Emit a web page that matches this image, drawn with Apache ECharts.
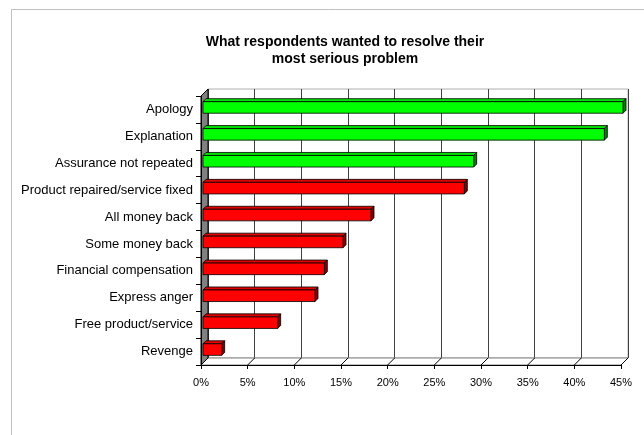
<!DOCTYPE html>
<html>
<head>
<meta charset="utf-8">
<script src="https://cdn.jsdelivr.net/npm/echarts@6/dist/echarts.min.js"></script>
<style>
  html, body { margin: 0; padding: 0; background: #fff; }
  #chart { width: 644px; height: 435px; }
</style>
</head>
<body>
<div id="chart"></div>
<script>
// What respondents wanted, share of respondents (%)
const categories = [
  'Apology',
  'Explanation',
  'Assurance not repeated',
  'Product repaired/service fixed',
  'All money back',
  'Some money back',
  'Financial compensation',
  'Express anger',
  'Free product/service',
  'Revenge'
];
const values = [45, 43, 29, 28, 18, 15, 13, 12, 8, 2];
// Non-monetary remedies are drawn green, the rest red
const nonMonetaryCount = 3;
const xTicks = [0, 5, 10, 15, 20, 25, 30, 35, 40, 45];

const FONT = '"Liberation Sans", Arial, sans-serif';
const DEPTH_X = 7, DEPTH_Y = -7;   // wall depth in pixels
const BAR_OFF = 2, BAR_DEPTH = 3;  // bar position / thickness in depth

const chart = echarts.init(document.getElementById('chart'), null, { renderer: 'canvas' });

function renderFrame(params, api) {
  const cs = params.coordSys;
  const x = cs.x, y = cs.y, w = cs.width, h = cs.height, yb = y + h;
  const children = [];
  // floor
  children.push({
    type: 'polygon',
    shape: { points: [[x, yb], [x + w, yb], [x + w + DEPTH_X, yb + DEPTH_Y], [x + DEPTH_X, yb + DEPTH_Y]] },
    style: { fill: '#ffffff', stroke: '#808080', lineWidth: 1 }
  });
  xTicks.forEach(function (t) {
    const px = api.coord([t, 0])[0];
    children.push({
      type: 'line',
      shape: { x1: px, y1: yb, x2: px + DEPTH_X, y2: yb + DEPTH_Y },
      style: { stroke: '#000000', lineWidth: 1 }
    });
  });
  // left wall
  children.push({
    type: 'polygon',
    shape: { points: [[x, y], [x + DEPTH_X, y + DEPTH_Y], [x + DEPTH_X, yb + DEPTH_Y], [x, yb]] },
    style: { fill: '#808080', stroke: '#000000', lineWidth: 1 }
  });
  return { type: 'group', children: children };
}

function renderBar(params, api) {
  const idx = api.value(0);
  const v = api.value(1);
  const p0 = api.coord([0, idx]);
  const p1 = api.coord([v, idx]);
  const band = api.size([0, 1])[1];
  const h = band * 0.43;
  const xa = p0[0] + BAR_OFF, xb = p1[0] + BAR_OFF;
  const yt = p0[1] - BAR_OFF - h / 2, ybt = p0[1] - BAR_OFF + h / 2;
  const green = idx < nonMonetaryCount;
  const front = green ? '#00ff00' : '#ff0000';
  const top = green ? '#00e000' : '#e00000';
  const side = green ? '#008000' : '#800000';
  const st = { stroke: '#000000', lineWidth: 0.8 };
  return {
    type: 'group',
    children: [
      { type: 'polygon',
        shape: { points: [[xa, yt], [xb, yt], [xb + BAR_DEPTH, yt - BAR_DEPTH], [xa + BAR_DEPTH, yt - BAR_DEPTH]] },
        style: Object.assign({ fill: top }, st) },
      { type: 'polygon',
        shape: { points: [[xb, yt], [xb + BAR_DEPTH, yt - BAR_DEPTH], [xb + BAR_DEPTH, ybt - BAR_DEPTH], [xb, ybt]] },
        style: Object.assign({ fill: side }, st) },
      { type: 'rect',
        shape: { x: xa, y: yt, width: xb - xa, height: ybt - yt },
        style: Object.assign({ fill: front }, st) }
    ]
  };
}

const option = {
  backgroundColor: '#ffffff',
  animation: false,
  textStyle: { fontFamily: FONT },
  graphic: [{
    type: 'rect',
    shape: { x: 11.5, y: 9.5, width: 700, height: 500 },
    style: { fill: null, stroke: '#c0c0c0', lineWidth: 1 },
    silent: true
  }],
  title: {
    text: 'What respondents wanted to resolve their\nmost serious problem',
    left: 340,
    top: 29,
    textAlign: 'center',
    textStyle: { fontFamily: FONT, fontSize: 14, fontWeight: 'bold', color: '#000', lineHeight: 17 }
  },
  grid: [
    { left: 201, top: 96, width: 420, height: 269, containLabel: false },
    { left: 208, top: 89, width: 420, height: 269, containLabel: false,
      show: true, borderColor: '#b0b0b0', borderWidth: 1, backgroundColor: 'transparent' }
  ],
  xAxis: [
    { type: 'value', gridIndex: 0, min: 0, max: 45, interval: 5, z: 5,
      axisLine: { show: true, lineStyle: { color: '#000', width: 1 } },
      axisTick: { show: true, length: 4, lineStyle: { color: '#000' } },
      splitLine: { show: false },
      axisLabel: { formatter: '{value}%', fontFamily: FONT, fontSize: 11, color: '#000', margin: 12 } },
    { type: 'value', gridIndex: 1, min: 0, max: 45, interval: 5,
      axisLine: { show: false }, axisTick: { show: false }, axisLabel: { show: false },
      splitLine: { show: true, lineStyle: { color: '#404040', width: 1 } } }
  ],
  yAxis: [
    { type: 'category', gridIndex: 0, data: categories, inverse: true, z: 5,
      axisLine: { show: true, lineStyle: { color: '#000', width: 1 } },
      axisTick: { show: true, length: 5, lineStyle: { color: '#000' } },
      axisLabel: { fontFamily: FONT, fontSize: 13, color: '#000', margin: 8 } },
    { type: 'category', gridIndex: 1, data: categories, inverse: true, show: false }
  ],
  series: [
    { type: 'custom', xAxisIndex: 0, yAxisIndex: 0, z: 2, silent: true,
      renderItem: renderFrame, data: [[0, 0]] },
    { type: 'custom', xAxisIndex: 0, yAxisIndex: 0, z: 3,
      renderItem: renderBar,
      encode: { x: 1, y: 0 },
      data: values.map(function (v, i) { return [i, v]; }) }
  ]
};

chart.setOption(option);
</script>
</body>
</html>
